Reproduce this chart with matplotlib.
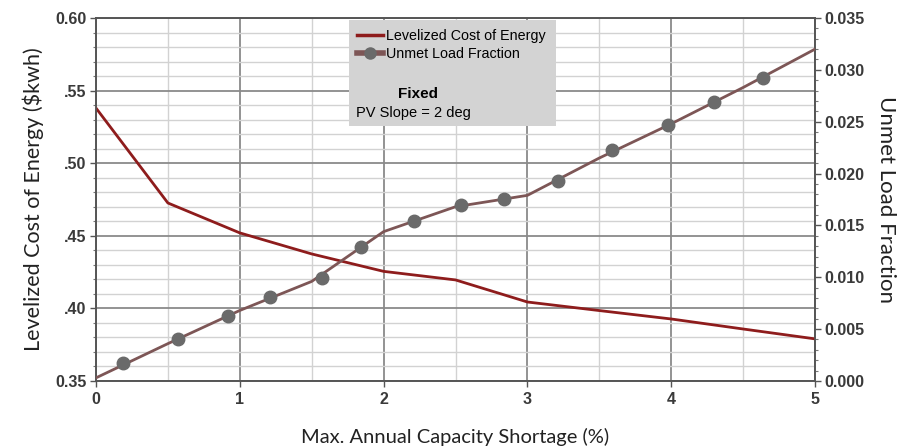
import matplotlib
matplotlib.use("Agg")
import matplotlib.pyplot as plt
from matplotlib.patches import Rectangle
from matplotlib.lines import Line2D
from matplotlib.ticker import MultipleLocator, FixedLocator

# ---- data ----
lcoe_x = [0, 0.5, 1, 1.5, 2, 2.5, 3, 3.5, 4, 4.5, 5]
lcoe_y = [0.538, 0.4726, 0.452, 0.4375, 0.4255, 0.4196, 0.4044, 0.3985, 0.3927, 0.3858, 0.379]

unmet_x = [0, 0.5, 1, 1.5, 2, 2.5, 3, 3.5, 4, 4.5, 5]
unmet_y = [0.0003, 0.0036, 0.0068, 0.0096, 0.0144, 0.0168, 0.0179, 0.0215, 0.0248, 0.0283, 0.0320]

marker_x = [0.19, 0.57, 0.92, 1.21, 1.57, 1.84, 2.21, 2.54, 2.84, 3.21, 3.59, 3.98, 4.30, 4.64]
marker_y = [0.00174, 0.00405, 0.0063, 0.0081, 0.0099, 0.0129, 0.0154, 0.0170, 0.0175, 0.0193, 0.0223, 0.0247, 0.0269, 0.0292]

x_ticks = [0, 1, 2, 3, 4, 5]
left_ticks = [0.35, 0.40, 0.45, 0.50, 0.55, 0.60]
left_labels = ["0.35", ".40", ".45", ".50", ".55", "0.60"]
right_ticks = [0.000, 0.005, 0.010, 0.015, 0.020, 0.025, 0.030, 0.035]
right_labels = ["0.000", "0.005", "0.010", "0.015", "0.020", "0.025", "0.030", "0.035"]

red = "#8e1c1c"
gray_line = "#7d5656"
gray_mk = "#6a6a6a"

fig = plt.figure(figsize=(9.02, 4.48), dpi=100)
ax = fig.add_axes([0.1064, 0.1496, 0.7972, 0.8102])
ax2 = ax.twinx()

ax.set_xlim(0, 5)
ax.set_ylim(0.35, 0.60)
ax2.set_ylim(0.0, 0.035)

# grid
ax.xaxis.set_major_locator(FixedLocator(x_ticks))
ax.xaxis.set_minor_locator(MultipleLocator(0.5))
ax.yaxis.set_major_locator(FixedLocator(left_ticks))
ax.yaxis.set_minor_locator(MultipleLocator(0.01))
ax.grid(which="major", color="#8a8a8a", linewidth=1.3)
ax.grid(which="minor", color="#d2d2d2", linewidth=1.0)
ax.set_axisbelow(True)

tickfont = dict(family="Liberation Sans", size=11.5, weight="bold")
ax.set_xticklabels([str(v) for v in x_ticks], fontdict=tickfont, color="#3a3a3a")
ax.set_yticklabels(left_labels, fontdict=tickfont, color="#3a3a3a")
ax2.yaxis.set_major_locator(FixedLocator(right_ticks))
ax2.yaxis.set_minor_locator(MultipleLocator(0.001))
ax2.set_yticklabels(right_labels, fontdict=tickfont, color="#3a3a3a")

for a in (ax, ax2):
    a.tick_params(which="major", length=4, width=1, color="#555555", pad=3)
    a.tick_params(which="minor", length=2, width=0.8, color="#777777")
    for s in a.spines.values():
        s.set_color("#555555")
        s.set_linewidth(1.2)
ax.tick_params(axis="x", which="minor", length=0)
ax.tick_params(axis="x", which="major", pad=4)

# lines
ax.plot(lcoe_x, lcoe_y, color=red, linewidth=2.0, zorder=3)
ax2.plot(unmet_x, unmet_y, color=gray_line, linewidth=2.0, zorder=3)
ax2.plot(marker_x, marker_y, linestyle="none", marker="o", markersize=9,
         color=gray_mk, zorder=4)

ax.set_xlabel("Max. Annual Capacity Shortage (%)", fontdict=dict(family="Lato", size=14.5),
              color="#222222", labelpad=15)
ax.set_ylabel("Levelized Cost of Energy ($kwh)", fontdict=dict(family="Lato", size=15.5),
              color="#222222", labelpad=8)
ax2.set_ylabel("Unmet Load Fraction", fontdict=dict(family="Lato", size=16),
               color="#222222", rotation=270, labelpad=22)

# legend box
box = Rectangle((0.352, 0.702), 0.288, 0.293, transform=ax.transAxes,
                facecolor="#d3d3d3", edgecolor="none", zorder=5)
ax2.add_patch(box)
h1 = Line2D([], [], color=red, linewidth=2.5)
h2 = Line2D([], [], color=gray_line, linewidth=4, marker="o", markersize=8,
            markerfacecolor=gray_mk, markeredgecolor=gray_mk)
leg = ax2.legend([h1, h2], ["Levelized Cost of Energy", "Unmet Load Fraction"],
                 loc="upper left", bbox_to_anchor=(0.355, 0.985), frameon=False,
                 prop=dict(family="Liberation Sans", size=10.3), handlelength=1.8,
                 handletextpad=0.2, labelspacing=0.3, borderpad=0.4, borderaxespad=0)
leg.set_zorder(6)
ax2.text(0.42, 0.79, "Fixed", transform=ax.transAxes, fontsize=11, weight="bold",
         family="Liberation Sans", zorder=7, ha="left", va="center")
ax2.text(0.362, 0.738, "PV Slope = 2 deg", transform=ax.transAxes, fontsize=10.5,
         family="Liberation Sans", zorder=7, ha="left", va="center")

fig.savefig("out.png", dpi=100)
